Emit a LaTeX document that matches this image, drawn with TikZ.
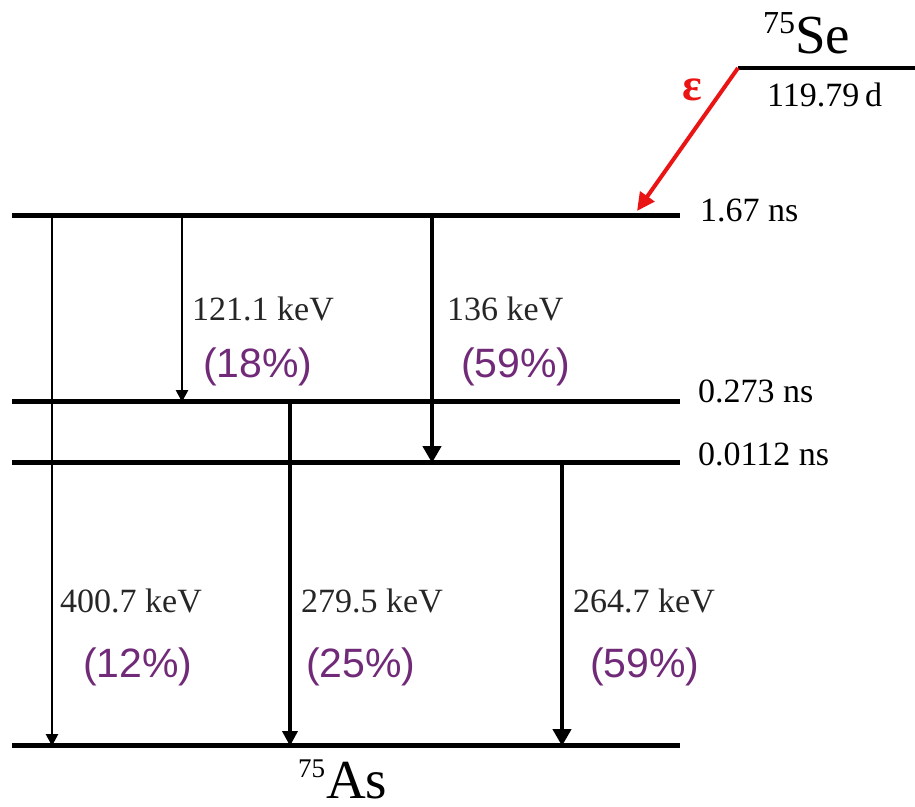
\documentclass[tikz,border=0pt]{standalone}
\usepackage{fontspec}
\setmainfont{Liberation Serif}
\newfontfamily\pctfont{Liberation Sans}
\usetikzlibrary{arrows.meta}
\definecolor{pctpurple}{RGB}{112,42,120}
\definecolor{ecred}{RGB}{235,20,20}
\newcommand{\massnum}[3]{\raisebox{#2pt}{\fontsize{#1}{#1}\selectfont #3}}
\begin{document}
\begin{tikzpicture}[x=1pt,y=-1pt,
  level/.style={line width=5pt},
  thinarr/.style={line width=2.6pt,-{Triangle[length=12pt,width=12pt]}},
  midarr/.style={line width=3.6pt,-{Triangle[length=15pt,width=15pt]}},
  thickarr/.style={line width=4.6pt,-{Triangle[length=17pt,width=18pt]}},
  energy/.style={anchor=base west,inner sep=0pt,font=\fontsize{34}{40}\selectfont,text=black!85},
  pct/.style={anchor=base west,inner sep=0pt,font=\pctfont\fontsize{41}{48}\selectfont,text=pctpurple},
  life/.style={anchor=base west,inner sep=0pt,font=\fontsize{34}{40}\selectfont},
  nucl/.style={anchor=base west,inner sep=0pt,text depth=0pt,font=\fontsize{55}{60}\selectfont}]
\useasboundingbox (0,0) rectangle (915,806);

% levels of 75As
\draw[level] (12,215) -- (680,215);
\draw[level] (12,401) -- (680,401);
\draw[level] (12,462) -- (680,462);
\draw[level] (12,745) -- (680,745);

% parent level of 75Se
\coordinate (se0) at (738,68);
\coordinate (se1) at (915,68);
\draw[line width=4.5pt] (se0) -- (se1);

% electron capture
\coordinate (ecend) at (637,211);
\draw[ecred,line width=4pt,-{Triangle[length=18pt,width=17pt]}] (se0) -- (ecend);
\node[text=ecred,font=\bfseries\fontsize{46}{50}\selectfont,inner sep=0pt] (eps) at (692,90) {ε};

% gamma transitions
\coordinate (a1) at (52,215);  \coordinate (a2) at (52,746);
\coordinate (b1) at (182,215); \coordinate (b2) at (182,402);
\coordinate (c1) at (432,215); \coordinate (c2) at (432,463);
\coordinate (d1) at (290,401); \coordinate (d2) at (290,746);
\coordinate (e1) at (562,462); \coordinate (e2) at (562,746);
\draw[thinarr] (a1) -- (a2);
\draw[thinarr] (b1) -- (b2);
\draw[thickarr] (c1) -- (c2);
\draw[midarr] (d1) -- (d2);
\draw[thickarr] (e1) -- (e2);

% energies and intensities
\node[energy] (g121) at (192,320) {121.1 keV};
\node[pct] (p121) at (203,377) {(18\%)};
\node[energy] (g136) at (447,320) {136 keV};
\node[pct] (p136) at (461,377) {(59\%)};
\node[energy] (g400) at (60,612) {400.7 keV};
\node[pct] (p400) at (83,677) {(12\%)};
\node[energy] (g279) at (301,612) {279.5 keV};
\node[pct] (p279) at (306,677) {(25\%)};
\node[energy] (g264) at (573,612) {264.7 keV};
\node[pct] (p264) at (590,677) {(59\%)};

% half-lives
\node[life] (t1) at (700,221) {1.67 ns};
\node[life] (t2) at (698,402) {0.273 ns};
\node[life] (t3) at (698,465) {0.0112 ns};
\node[life] (tse) at (767,106) {119.79\,d};

% nuclides
\node[nucl] (se) at (763,53) {\massnum{32}{20}{75}Se};
\node[nucl] (as) at (298,798) {\massnum{27}{21}{75}\kern1pt As};
\end{tikzpicture}
\end{document}
